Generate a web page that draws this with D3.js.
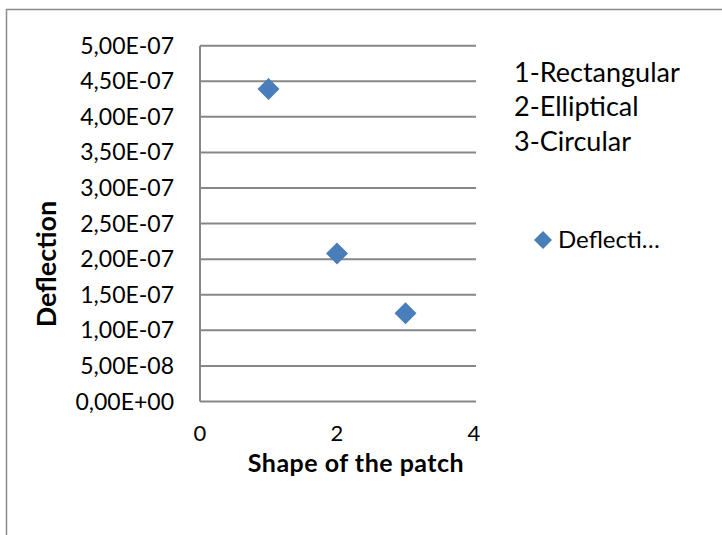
<!DOCTYPE html>
<html>
<head>
<meta charset="utf-8">
<script src="https://cdn.jsdelivr.net/npm/d3@7"></script>
<style>
  html, body { margin: 0; padding: 0; background: #fff; }
  svg text { font-family: Lato, "Open Sans", sans-serif; fill: #000; }
</style>
</head>
<body>
<svg id="chart" width="722" height="535"></svg>
<script>
const shapes = [1, 2, 3];
const deflection = [4.39e-7, 2.08e-7, 1.24e-7];
const xTicks = [0, 2, 4];
const yTicks = [0, 5e-8, 1e-7, 1.5e-7, 2e-7, 2.5e-7, 3e-7, 3.5e-7, 4e-7, 4.5e-7, 5e-7];
const yTickLabels = ["0,00E+00", "5,00E-08", "1,00E-07", "1,50E-07", "2,00E-07", "2,50E-07",
                     "3,00E-07", "3,50E-07", "4,00E-07", "4,50E-07", "5,00E-07"];
const noteLabels = ["1-Rectangular", "2-Elliptical", "3-Circular"];
const seriesName = "Deflecti…";

const svg = d3.select("#chart");
const color = "#4a7ebb";
const grid = "#878787";

// outer chart border
svg.append("rect").attr("x", 6.5).attr("y", 9.5).attr("width", 760).attr("height", 560)
  .attr("fill", "none").attr("stroke", "#8c8c8c").attr("stroke-width", 1.5);

const x = d3.scaleLinear().domain([0, 4]).range([200, 474]);
const y = d3.scaleLinear().domain([0, 5e-7]).range([401.5, 45.7]);

// gridlines
svg.append("g").selectAll("line").data(yTicks).join("line")
  .attr("x1", 200).attr("x2", 476)
  .attr("y1", d => y(d)).attr("y2", d => y(d))
  .attr("stroke", grid).attr("stroke-width", 2);

// y axis line
svg.append("line").attr("x1", 200).attr("x2", 200).attr("y1", y(5e-7)).attr("y2", y(0))
  .attr("stroke", grid).attr("stroke-width", 2);

// y tick labels
svg.append("g").selectAll("text").data(yTicks).join("text")
  .attr("x", 174).attr("y", d => y(d)).attr("dy", "0.35em")
  .attr("text-anchor", "end").style("font-size", "23px")
  .text((d, i) => yTickLabels[i]);

// x tick labels
svg.append("g").selectAll("text").data(xTicks).join("text")
  .attr("x", d => x(d)).attr("y", 441)
  .attr("text-anchor", "middle").style("font-size", "22px")
  .text(d => d);

// axis titles
svg.append("text").attr("x", 356).attr("y", 472)
  .attr("text-anchor", "middle").style("font-size", "25px").style("font-weight", "bold")
  .style("letter-spacing", "0.5px")
  .text("Shape of the patch");
svg.append("text").attr("transform", "translate(47,264) rotate(-90)")
  .attr("dy", "0.35em")
  .attr("text-anchor", "middle").style("font-size", "27px").style("font-weight", "bold")
  .text("Deflection");

// points
const diamond = d3.symbol().type(d3.symbolSquare).size(242);
svg.append("g").selectAll("path").data(shapes).join("path")
  .attr("d", diamond)
  .attr("transform", (d, i) => `translate(${x(d)},${y(deflection[i])}) rotate(45)`)
  .attr("fill", color);

// note labels
svg.append("g").selectAll("text").data(noteLabels).join("text")
  .attr("x", 514).attr("y", (d, i) => 81.5 + i * 34.5)
  .style("font-size", "27px")
  .text(d => d);

// legend
svg.append("path").attr("d", d3.symbol().type(d3.symbolSquare).size(162)())
  .attr("transform", "translate(543,240) rotate(45)").attr("fill", color);
svg.append("text").attr("x", 558).attr("y", 248)
  .style("font-size", "24px").text(seriesName);
</script>
</body>
</html>
